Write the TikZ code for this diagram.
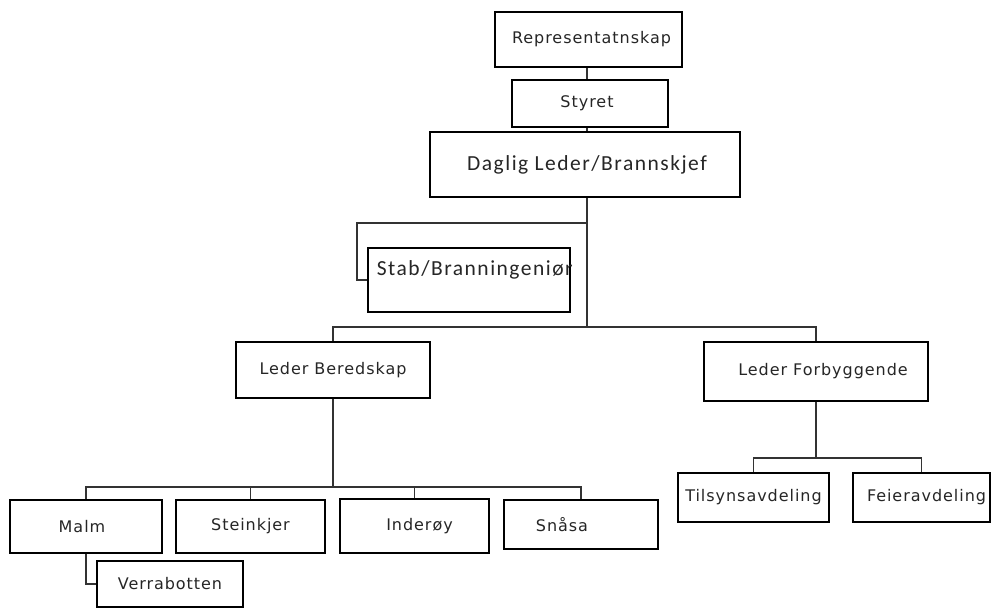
\documentclass[tikz,border=0pt]{standalone}
\usepackage{fontspec}
\setmainfont{DejaVu Sans}[LetterSpace=6]
\newfontfamily\bigfam{Carlito}[LetterSpace=7]
\begin{document}
\begin{tikzpicture}[x=1pt,y=-1pt,
  box/.style={draw=black, line width=1.3pt, fill=white, inner sep=0pt,
    text=black!85, font=\fontsize{16}{19}\selectfont},
  bigtext/.style={font=\bigfam\fontsize{21.5}{24}\selectfont},
  conn/.style={draw=black!80, line width=1.1pt}]
\useasboundingbox[fill=white] (0,0) rectangle (992,608);
\coordinate (tx) at (587,0);
% boxes
\node[box, minimum width=187pt, minimum height=55pt] (rep) at (588.5,39.5) {\hspace*{6pt}Representatnskap};
\node[box, minimum width=156pt, minimum height=47pt] (sty) at (590,103.5) {Styret\hspace*{6pt}};
\node[box, bigtext, minimum width=310pt, minimum height=65pt] (dag) at (585,164.5) {\hspace*{4pt}Daglig Leder/Brannskjef};
\node[box, minimum width=202pt, minimum height=64pt,
  label={[bigtext, text=black!85, anchor=west, xshift=6pt, yshift=10pt]west:Stab/Branningeniør}] (stab) at (469,280) {};
\node[box, minimum width=194pt, minimum height=56pt] (lb) at (333,370) {Leder Beredskap};
\node[box, minimum width=224pt, minimum height=59pt] (lf) at (816,371.5) {\hspace*{14pt}Leder Forbyggende};
\node[box, minimum width=151pt, minimum height=49pt] (tils) at (753.5,497.5) {Tilsynsavdeling};
\node[box, minimum width=137pt, minimum height=49pt] (feie) at (921.5,497.5) {\hspace*{10pt}Feieravdeling};
\node[box, minimum width=152pt, minimum height=53pt] (malm) at (86,526.5) {Malm\hspace*{8pt}};
\node[box, minimum width=149pt, minimum height=53pt] (stein) at (250.5,526.5) {Steinkjer};
\node[box, minimum width=149pt, minimum height=54pt] (inder) at (414.5,526) {\hspace*{10pt}Inderøy};
\node[box, minimum width=154pt, minimum height=49pt] (snasa) at (581,524.5) {Snåsa\hspace*{38pt}};
% connectors
\coordinate (sb) at (587,223);
\coordinate (sbl) at (357,223);
\coordinate (bus) at (587,327);
\coordinate (bus2) at (335,487);
\coordinate (bus3) at (816,458);
\draw[conn] (rep.south -| tx) -- (sty.north -| tx);
\draw[conn] (sty.south -| tx) -- (dag.north -| tx);
\draw[conn] (dag.south -| tx) -- (bus);
\draw[conn] (sb) -- (sbl) |- (stab.west);
\draw[conn] (lb.north) |- (bus) -| (lf.north);
\draw[conn] (lb.south) -- (lb.south |- bus2);
\draw[conn] (malm.north) |- (bus2) -| (snasa.north);
\draw[conn] (stein.north) -- (stein.north |- bus2);
\draw[conn] (inder.north) -- (inder.north |- bus2);
\draw[conn] (lf.south) -- (bus3);
\draw[conn] (tils.north) |- (bus3) -| (feie.north);
\node[box, minimum width=146pt, minimum height=46pt] (verra) at (170,584) {Verrabotten};
\draw[conn] (malm.south) |- (verra.west);
\end{tikzpicture}
\end{document}
